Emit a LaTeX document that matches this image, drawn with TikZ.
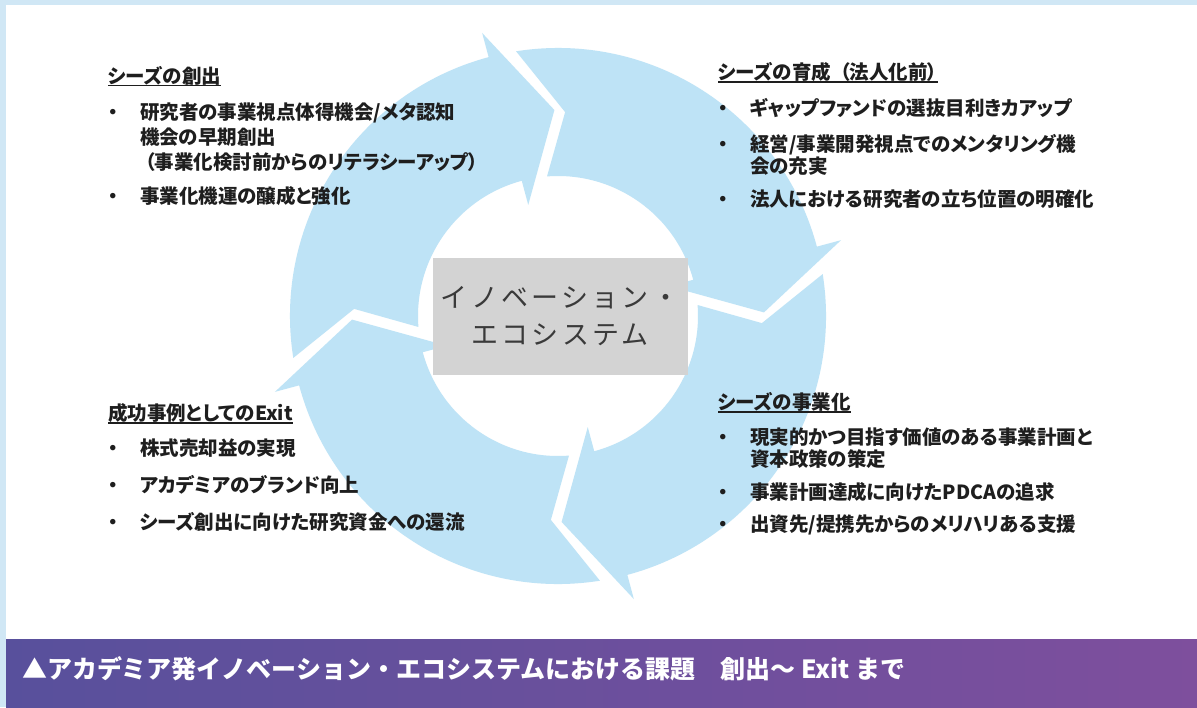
\documentclass[tikz,border=0pt]{standalone}
\usepackage{fontspec}
\newfontfamily\jpb[RawFeature=+palt]{Noto Sans CJK JP}
\newfontfamily\jpf{Noto Sans CJK JP}
\newfontfamily\jpbox[LetterSpace=12]{Noto Sans CJK JP}
\definecolor{ink}{HTML}{1E1E1E}
\definecolor{ringblue}{HTML}{BEE3F6}
\definecolor{framebl}{HTML}{D0E7F5}
\definecolor{boxgray}{HTML}{D3D3D3}
\definecolor{boxtext}{HTML}{3A3A3A}
\definecolor{capL}{HTML}{58509C}
\definecolor{capM}{HTML}{8F8DC4}
\definecolor{capR}{HTML}{7E4F9D}
\tikzset{
  every node/.style={inner sep=0pt, outer sep=0pt},
  txtline/.style={anchor=base west, font=\jpb\bfseries\fontsize{19.5}{24}\selectfont, text=ink},
  bulletdot/.style={anchor=base, font=\jpb\bfseries\fontsize{19.5}{24}\selectfont, text=ink},
  uline/.style={draw=ink, line width=1.8pt},
  arrowseg/.style={fill=ringblue},
  ecobox/.style={fill=boxgray, minimum width=255pt, minimum height=117pt, align=center,
    font=\jpbox\fontsize{27}{37}\selectfont, text=boxtext},
  captext/.style={anchor=base west, font=\jpf\bfseries\fontsize{25}{28}\selectfont, text=white},
}
\begin{document}
\begin{tikzpicture}[x=1pt, y=-1pt]
\useasboundingbox (0,0) rectangle (1197,707);
\fill[white] (0,0) rectangle (1197,707);
\fill[framebl] (0,0) rectangle (1197,5);
\fill[framebl] (0,0) rectangle (6,707);
\shade[left color=capL, middle color=capM, right color=capR] (6,639) rectangle (1197,707);

% ring of four arrows
\begin{scope}[shift={(558,316)}]
\foreach \h in {105,15,-75,-165} {
  \fill[arrowseg] (\h+84:268pt) arc[start angle=\h+84, end angle=\h, radius=268pt]
    -- (\h:293pt) -- (\h-14:206pt) -- (\h:115pt) -- (\h:140pt)
    arc[start angle=\h, end angle=\h+79.5, radius=140pt]
    -- (\h+73:204pt) -- cycle;
}
\end{scope}

\node[ecobox] (eco) at (560,316.5) {イノベーション・\\エコシステム};

% top-left
\node[txtline] (h1) at (108,83) {シーズの創出};
\draw[uline] ([yshift=-2.5pt]h1.base west) -- ([yshift=-2.5pt]h1.base east);
\node[bulletdot] (b11) at (113.5,119.5) {・};
\node[txtline] (t11a) at (140,119.5) {研究者の事業視点体得機会/メタ認知};
\node[txtline] (t11b) at (140,144.5) {機会の早期創出};
\node[txtline] (t11c) at (145,169.5) {（事業化検討前からのリテラシーアップ）};
\node[bulletdot] (b12) at (113.5,203.5) {・};
\node[txtline] (t12) at (140,203.5) {事業化機運の醸成と強化};

% top-right
\node[txtline] (h2) at (718,79.5) {シーズの育成\hspace{9pt}（法人化前）};
\draw[uline] ([yshift=-2.5pt]h2.base west) -- ([yshift=-2.5pt]h2.base east);
\node[bulletdot] (b21) at (723.5,115) {・};
\node[txtline] (t21) at (750,115) {ギャップファンドの選抜目利きカアップ};
\node[bulletdot] (b22) at (723.5,151.5) {・};
\node[txtline] (t22a) at (750,151.5) {経営/事業開発視点でのメンタリング機};
\node[txtline] (t22b) at (750,173.5) {会の充実};
\node[bulletdot] (b23) at (723.5,206.5) {・};
\node[txtline] (t23) at (750,206.5) {法人における研究者の立ち位置の明確化};

% bottom-left
\node[txtline] (h3) at (108,420.5) {成功事例としてのExit};
\draw[uline] ([yshift=-2.5pt]h3.base west) -- ([yshift=-2.5pt]h3.base east);
\node[bulletdot] (b31) at (113.5,455.5) {・};
\node[txtline] (t31) at (140,455.5) {株式売却益の実現};
\node[bulletdot] (b32) at (113.5,492.5) {・};
\node[txtline] (t32) at (140,492.5) {アカデミアのブランド向上};
\node[bulletdot] (b33) at (113.5,529.5) {・};
\node[txtline] (t33) at (140,529.5) {シーズ創出に向けた研究資金への還流};

% bottom-right
\node[txtline] (h4) at (718,409.5) {シーズの事業化};
\draw[uline] ([yshift=-2.5pt]h4.base west) -- ([yshift=-2.5pt]h4.base east);
\node[bulletdot] (b41) at (723.5,444.5) {・};
\node[txtline] (t41a) at (750,444.5) {現実的かつ目指す価値のある事業計画と};
\node[txtline] (t41b) at (750,466.5) {資本政策の策定};
\node[bulletdot] (b42) at (723.5,499.5) {・};
\node[txtline] (t42) at (750,499.5) {事業計画達成に向けたPDCAの追求};
\node[bulletdot] (b43) at (723.5,531.5) {・};
\node[txtline] (t43) at (750,531.5) {出資先/提携先からのメリハリある支援};

% caption
\node[captext] (cap) at (22,678) {▲アカデミア発イノベーション・エコシステムにおける課題　創出〜 Exit まで};
\end{tikzpicture}
\end{document}
